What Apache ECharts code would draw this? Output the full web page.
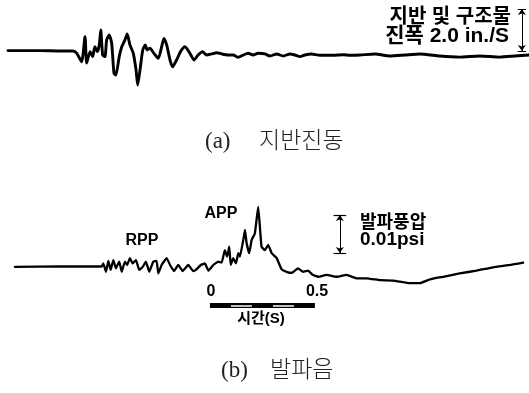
<!DOCTYPE html>
<html><head><meta charset="utf-8">
<script src="https://cdn.jsdelivr.net/npm/echarts@6/dist/echarts.min.js"></script>
<style>html,body{margin:0;padding:0;background:#fff}#c{width:529px;height:393px}</style>
</head><body><div id="c"></div>
<script>
// (a) ground / structure vibration velocity (in./s) against time (s, 0 = start of the time bar)
const groundTime = [-0.962,-0.810,-0.714,-0.652,-0.635,-0.611,-0.595,-0.587,-0.571,-0.559,-0.548,-0.537,-0.527,-0.520,-0.511,-0.500,-0.492,-0.480,-0.468,-0.457,-0.448,-0.432,-0.420,-0.405,-0.394,-0.381,-0.365,-0.352,-0.344,-0.333,-0.320,-0.308,-0.299,-0.286,-0.267,-0.246,-0.230,-0.219,-0.206,-0.190,-0.178,-0.159,-0.140,-0.119,-0.095,-0.076,-0.056,-0.035,-0.016,0.008,0.032,0.056,0.087,0.111,0.135,0.159,0.182,0.206,0.230,0.262,0.286,0.318,0.349,0.381,0.405,0.429,0.452,0.484,0.524,0.587,0.635,0.667,0.714,0.786,0.857,0.929,1.000,1.095,1.190,1.286,1.381,1.452,1.519];
const groundVel = [0.02,0.02,0,0,-0.10,-0.51,0.68,-0.57,-0.03,-0.27,0.20,-0.03,0.29,1.00,-0.19,-0.27,0.52,0.76,0.37,-1.06,-1.14,-0.27,0.20,0.52,0.81,0.29,-0.11,-0.90,-1.62,-0.90,0.05,0.29,0.05,0.13,-0.11,-0.35,0.20,0.60,0.29,-0.43,-0.75,-0.43,-0.03,0.20,-0.11,-0.43,-0.19,-0.03,-0.19,-0.14,-0.08,-0.14,-0.19,-0.19,-0.30,-0.19,-0.11,-0.19,-0.11,-0.14,-0.24,-0.14,-0.24,-0.14,-0.19,-0.27,-0.19,-0.14,-0.20,-0.20,-0.18,-0.20,-0.19,-0.14,-0.24,-0.19,-0.14,-0.24,-0.29,-0.24,-0.29,-0.24,-0.19];

// (b) air blast overpressure (psi) against time (s)
const blastTime = [-0.929,-0.714,-0.516,-0.508,-0.495,-0.484,-0.473,-0.460,-0.448,-0.432,-0.420,-0.405,-0.394,-0.381,-0.368,-0.352,-0.337,-0.320,-0.305,-0.289,-0.270,-0.254,-0.246,-0.230,-0.206,-0.190,-0.171,-0.151,-0.130,-0.103,-0.080,-0.067,-0.043,-0.024,-0.007,0.016,0.040,0.056,0.071,0.082,0.092,0.099,0.111,0.124,0.135,0.143,0.159,0.167,0.175,0.187,0.199,0.214,0.222,0.230,0.238,0.246,0.262,0.278,0.294,0.318,0.341,0.365,0.389,0.420,0.444,0.468,0.490,0.516,0.556,0.603,0.651,0.699,0.746,0.810,0.873,0.937,1.000,1.048,1.111,1.190,1.270,1.349,1.433,1.492];
const blastPsi = [-0.0001,0.0000,0.0000,0.0008,-0.0014,0.0015,-0.0009,0.0017,-0.0005,0.0013,-0.0014,0.0013,0.0004,0.0022,0.0008,0.0017,-0.0009,-0.0001,0.0013,-0.0014,0.0013,0.0015,-0.0018,0.0004,0.0022,0.0004,-0.0012,0.0004,-0.0012,0.0004,-0.0012,-0.0009,0.0004,0.0008,-0.0011,0.0004,0.0013,0.0010,0.0043,0.0026,0.0052,0.0004,0.0022,0.0008,0.0035,0.0026,0.0070,0.0096,0.0061,0.0035,0.0070,0.0087,0.0122,0.0157,0.0105,0.0052,0.0043,0.0057,0.0035,0.0022,-0.0007,-0.0014,-0.0017,-0.0005,-0.0014,-0.0011,-0.0022,-0.0027,-0.0022,-0.0027,-0.0022,-0.0031,-0.0031,-0.0036,-0.0037,-0.0043,-0.0044,-0.0034,-0.0027,-0.0018,-0.0011,-0.0002,0.0004,0.0010];

// scale references
const velScale = 2.0;        // in./s
const psiScale = 0.01;       // psi
const timeBar = [0, 0.5];    // s
const timeTicks = ['0', '0.5'];
const velBarAt = 1.486;      // time position of the velocity scale
const psiBarAt = 0.619;      // time position of the pressure scale
const psiBarBase = 0.00355;
const timeBarLevel = -0.01026;

const zip = (a, b) => a.map((v, i) => [v, b[i]]);
const bold = '"Liberation Sans","Noto Sans CJK KR",sans-serif';
const serif = '"Liberation Serif","Noto Sans CJK KR",serif';

const chart = echarts.init(document.getElementById('c'), null, {renderer: 'canvas'});
const xAx = i => ({type: 'value', gridIndex: i, min: -1.0, max: 1.52, show: false});
const capW = 0.02;
const txt = (x, y, text, font, align, fill) => ({
  type: 'text', x: x, y: y,
  style: {text: text, font: font, fill: fill || '#000', align: align || 'center', verticalAlign: 'middle'}
});

chart.setOption({
  animation: false,
  backgroundColor: '#fff',
  grid: [
    {left: 0, right: 0, top: 0, height: 102},
    {left: 0, right: 0, top: 190.5, height: 152}
  ],
  xAxis: [xAx(0), xAx(1)],
  yAxis: [
    {type: 'value', gridIndex: 0, min: -2.43, max: 2.43, show: false},
    {type: 'value', gridIndex: 1, min: -0.02, max: 0.02, show: false}
  ],
  series: [
    {type: 'line', xAxisIndex: 0, yAxisIndex: 0, data: zip(groundTime, groundVel),
     showSymbol: false, smooth: 0.2,
     lineStyle: {color: '#000', width: 2.9, join: 'round', cap: 'round'}},
    {type: 'line', xAxisIndex: 1, yAxisIndex: 1, data: zip(blastTime, blastPsi),
     showSymbol: false, smooth: 0.1,
     lineStyle: {color: '#000', width: 2.3, join: 'round', cap: 'round'}},
    // velocity scale arrow with end caps
    {type: 'lines', coordinateSystem: 'cartesian2d', xAxisIndex: 0, yAxisIndex: 0,
     symbol: ['arrow', 'arrow'], symbolSize: 6,
     lineStyle: {color: '#000', width: 1, opacity: 1},
     data: [{coords: [[velBarAt, 0], [velBarAt, velScale]]}]},
    {type: 'lines', coordinateSystem: 'cartesian2d', xAxisIndex: 0, yAxisIndex: 0,
     symbol: 'none', lineStyle: {color: '#000', width: 1.2, opacity: 1},
     data: [{coords: [[velBarAt - capW, 0], [velBarAt + capW, 0]]},
            {coords: [[velBarAt - capW, velScale], [velBarAt + capW, velScale]]}]},
    // pressure scale arrow with end caps
    {type: 'lines', coordinateSystem: 'cartesian2d', xAxisIndex: 1, yAxisIndex: 1,
     symbol: ['arrow', 'arrow'], symbolSize: 6,
     lineStyle: {color: '#000', width: 1, opacity: 1},
     data: [{coords: [[psiBarAt, psiBarBase], [psiBarAt, psiBarBase + psiScale]]}]},
    {type: 'lines', coordinateSystem: 'cartesian2d', xAxisIndex: 1, yAxisIndex: 1,
     symbol: 'none', lineStyle: {color: '#000', width: 1.2, opacity: 1},
     data: [{coords: [[psiBarAt - 0.03, psiBarBase], [psiBarAt + 0.03, psiBarBase]]},
            {coords: [[psiBarAt - 0.03, psiBarBase + psiScale], [psiBarAt + 0.03, psiBarBase + psiScale]]}]},
    // time bar: solid band with open segments
    {type: 'lines', coordinateSystem: 'cartesian2d', xAxisIndex: 1, yAxisIndex: 1,
     symbol: 'none', lineStyle: {color: '#000', width: 5, opacity: 1},
     data: [{coords: [[timeBar[0], timeBarLevel], [timeBar[1], timeBarLevel]]}]},
    {type: 'lines', coordinateSystem: 'cartesian2d', xAxisIndex: 1, yAxisIndex: 1,
     symbol: 'none', lineStyle: {color: '#fff', width: 1.6, opacity: 1},
     data: [{coords: [[0.1, timeBarLevel], [0.2, timeBarLevel]]},
            {coords: [[0.3, timeBarLevel], [0.4, timeBarLevel]]}]}
  ],
  graphic: [
    txt(511, 17, '지반 및 구조물', 'bold 20px ' + bold, 'right'),
    txt(509, 36, '진폭 2.0 in./S', 'bold 21px ' + bold, 'right'),
    txt(142, 241, 'RPP', 'bold 16px ' + bold),
    txt(221, 214, 'APP', 'bold 16px ' + bold),
    txt(360, 223.5, '발파풍압', 'bold 18px ' + bold, 'left'),
    txt(360, 240, '0.01psi', 'bold 19px ' + bold, 'left'),
    txt(211, 292, timeTicks[0], 'bold 16px ' + bold),
    txt(317, 292, timeTicks[1], 'bold 16px ' + bold),
    txt(261, 318.5, '시간(S)', 'bold 15px ' + bold),
    txt(205, 142, '(a)', '23px ' + serif, 'left', '#222'),
    txt(259, 142, '지반진동', '300 23px ' + serif, 'left', '#222'),
    txt(221, 371, '(b)', '23px ' + serif, 'left', '#222'),
    txt(270, 371, '발파음', '300 23px ' + serif, 'left', '#222')
  ]
});
</script>
</body></html>
